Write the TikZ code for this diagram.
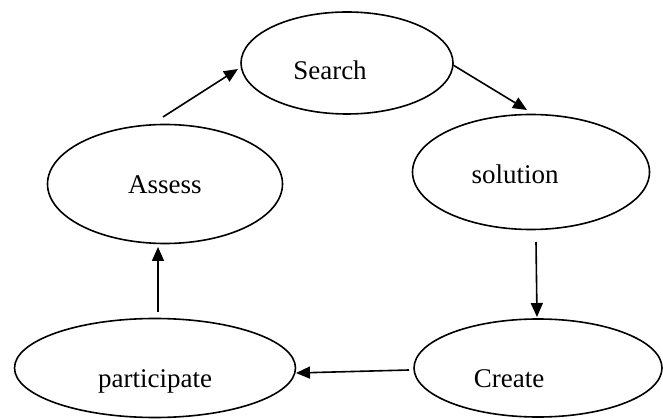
\documentclass[tikz,border=0pt]{standalone}
\usepackage{fontspec}
\setmainfont{Liberation Serif}
\usetikzlibrary{shapes.geometric,arrows.meta,positioning}

\begin{document}
\begin{tikzpicture}[x=1pt,y=-1pt,
  stage/.style={ellipse,draw,line width=1.6pt,inner sep=0pt},
  word/.style={anchor=base,inner sep=0pt,font=\fontsize{27}{30}\selectfont},
  flow/.style={line width=1.6pt,-{Triangle[length=14pt,width=12pt]}}]
\useasboundingbox (0,0) rectangle (663,419);
%the five stages
\node [stage,minimum width=212pt,minimum height=102pt] (search) at (347,63) {};
\node [stage,minimum width=237pt,minimum height=115pt] (solution) at (531,172) {};
\node [stage,minimum width=248pt,minimum height=98pt] (create) at (538,368) {};
\node [stage,minimum width=281pt,minimum height=99pt] (participate) at (155,368) {};
\node [stage,minimum width=235pt,minimum height=119pt] (assess) at (165,184) {};
\node [word] (search_txt) at (330,80) {Search};
\node [word] (solution_txt) at (515,184) {solution};
\node [word] (create_txt) at (509,387) {Create};
\node [word] (participate_txt) at (155,387) {participate};
\node [word] (assess_txt) at (165,194) {Assess};
%arrow ends
\coordinate (search_out) at (453,65);
\coordinate (solution_in) at (527,110);
\coordinate (solution_out) at (536,242);
\coordinate (create_in) at (537,317);
\coordinate (create_out) at (409,370);
\coordinate (participate_in) at (296,373);
\coordinate (participate_out) at (158,312);
\coordinate (assess_in) at (158,247);
\coordinate (assess_out) at (163,117);
\coordinate (search_in) at (238,69);
\draw [flow] (search_out) -- (solution_in);
\draw [flow] (solution_out) -- (create_in);
\draw [flow] (create_out) -- (participate_in);
\draw [flow] (participate_out) -- (assess_in);
\draw [flow] (assess_out) -- (search_in);
\end{tikzpicture}
\end{document}
